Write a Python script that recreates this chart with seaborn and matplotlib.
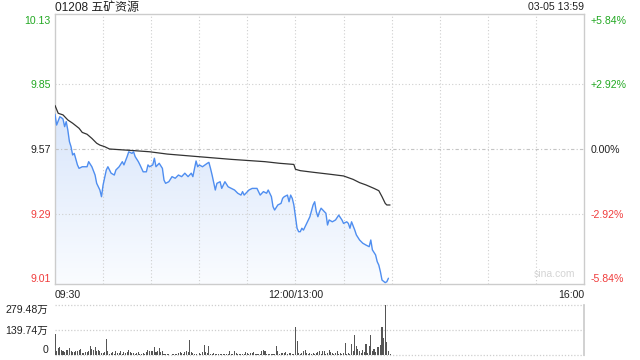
import matplotlib
matplotlib.use("Agg")
import numpy as np
import pandas as pd
import matplotlib.pyplot as plt
import seaborn as sns
from matplotlib.colors import LinearSegmentedColormap

# ---------------- data ----------------
title_text = "01208 五矿资源"
date_text = "03-05 13:59"
prev_close = 9.57

# minute index from 09:30 (lunch break 12:00-13:00 removed; 13:00 = 150)
price_min = [0, 1, 3, 4, 5, 6, 7, 8, 9, 10, 11, 12, 14, 15, 17, 20, 21, 23, 25, 26,
             28, 29, 30, 32, 33, 35, 37, 38, 40, 42, 43, 45, 46, 48, 49, 50, 52, 53, 55, 57,
             58, 59, 61, 62, 63, 65, 67, 68, 69, 71, 73, 75, 77, 79, 81, 83, 85, 86, 88, 89,
             90, 92, 95, 96, 97, 98, 100, 101, 103, 104, 106, 108, 110, 112, 114, 116, 117, 118, 121, 123,
             126, 128, 130, 132, 133, 135, 136, 137, 139, 141, 142, 143, 145, 146, 147, 148, 149, 150, 151, 152,
             153, 154, 155, 157, 159, 161, 162, 163, 164, 165, 166, 168, 169, 170, 171, 173, 175, 177, 179, 180,
             182, 183, 184, 185, 187, 188, 190, 192, 194, 196, 197, 198, 200, 201, 202, 203, 204, 206, 207, 208]
price_val = [9.721, 9.674, 9.710, 9.706, 9.700, 9.667, 9.689, 9.652, 9.602, 9.580, 9.544, 9.551, 9.501, 9.486, 9.493, 9.493, 9.515, 9.493, 9.457, 9.421,
             9.392, 9.363, 9.414, 9.479, 9.493, 9.465, 9.457, 9.479, 9.493, 9.515, 9.501, 9.537, 9.558, 9.551, 9.558, 9.537, 9.515, 9.501, 9.471, 9.471,
             9.501, 9.493, 9.501, 9.530, 9.493, 9.508, 9.486, 9.435, 9.421, 9.428, 9.450, 9.443, 9.457, 9.450, 9.465, 9.450, 9.465, 9.450, 9.518, 9.493,
             9.501, 9.493, 9.508, 9.512, 9.486, 9.457, 9.392, 9.421, 9.428, 9.399, 9.428, 9.406, 9.399, 9.392, 9.378, 9.370, 9.385, 9.370, 9.392, 9.399,
             9.399, 9.370, 9.385, 9.378, 9.392, 9.363, 9.320, 9.305, 9.327, 9.334, 9.356, 9.363, 9.370, 9.341, 9.370, 9.356, 9.327, 9.276, 9.226, 9.211,
             9.211, 9.226, 9.218, 9.247, 9.276, 9.327, 9.341, 9.298, 9.276, 9.298, 9.313, 9.298, 9.291, 9.240, 9.262, 9.254, 9.262, 9.283, 9.262, 9.247,
             9.254, 9.247, 9.226, 9.254, 9.218, 9.197, 9.175, 9.161, 9.153, 9.146, 9.175, 9.132, 9.110, 9.081, 9.066, 9.037, 9.001, 8.990, 8.994, 9.009]

avg_min = [0, 2, 5, 8, 11, 15, 17, 20, 23, 26, 28, 31, 34, 49, 59, 70, 89, 110, 131, 140,
           149, 150, 153, 161, 172, 180, 186, 190, 194, 199, 202, 204, 206, 207, 209]
avg_val = [9.759, 9.725, 9.718, 9.696, 9.682, 9.660, 9.642, 9.634, 9.616, 9.595, 9.587, 9.580, 9.570, 9.563, 9.558, 9.548, 9.537, 9.525, 9.515, 9.508,
           9.503, 9.482, 9.476, 9.469, 9.460, 9.453, 9.438, 9.424, 9.414, 9.399, 9.389, 9.363, 9.334, 9.327, 9.327]

# volume per minute (万股), minute 0 .. 209
volume = [117, 24, 37, 47, 28, 24, 15, 30, 28, 39,
          20, 15, 15, 20, 24, 30, 34, 9, 11, 15,
          15, 20, 52, 34, 28, 43, 24, 28, 20, 9,
          9, 15, 89, 24, 6, 9, 15, 6, 20, 9,
          11, 20, 6, 15, 9, 15, 30, 15, 9, 9,
          6, 9, 15, 6, 6, 9, 6, 15, 28, 24,
          20, 24, 43, 15, 24, 39, 15, 20, 6, 4,
          4, 4, 2, 4, 4, 4, 4, 9, 15, 9,
          6, 15, 20, 15, 86, 15, 9, 6, 6, 2,
          9, 6, 15, 58, 15, 9, 48, 6, 6, 9,
          6, 4, 4, 4, 4, 4, 4, 4, 4, 24,
          4, 6, 20, 9, 4, 4, 4, 4, 4, 19,
          9, 6, 9, 11, 15, 6, 4, 4, 4, 24,
          30, 20, 4, 6, 4, 6, 4, 6, 48, 24,
          6, 9, 11, 11, 15, 6, 11, 11, 6, 4,
          158, 80, 9, 6, 9, 20, 30, 11, 6, 9,
          6, 9, 6, 11, 15, 24, 6, 24, 24, 6,
          9, 30, 15, 9, 6, 9, 24, 6, 9, 6,
          11, 65, 6, 9, 6, 61, 20, 110, 52, 34,
          20, 11, 28, 15, 61, 9, 52, 110, 20, 34,
          15, 47, 47, 58, 155, 93, 279.48, 71, 20, 6]

total_minutes = 330
left_ticks = [10.13, 9.85, 9.57, 9.29, 9.01]
left_labels = ["10.13", "9.85", "9.57", "9.29", "9.01"]
right_labels = ["+5.84%", "+2.92%", "0.00%", "-2.92%", "-5.84%"]
x_tick_pos = [0, 150, 330]
x_tick_labels = ["09:30", "12:00/13:00", "16:00"]
vol_ticks = [0, 139.74, 279.48]
vol_labels = ["0", "139.74万", "279.48万"]

# ---------------- style ----------------
sns.set_theme(style="white")
plt.rcParams["font.family"] = ["Liberation Sans", "Noto Sans CJK SC", "DejaVu Sans"]

GREEN = "#22a822"
RED = "#f03c3c"
BLACK = "#222222"
BLUE = "#4f8ef0"
GRID = "#cfcfcf"
FRAME = "#cccccc"
label_colors = [GREEN, GREEN, BLACK, RED, RED]
FS = 7.6

W, H = 640, 360
fig = plt.figure(figsize=(W / 100, H / 100), dpi=100)
fig.patch.set_facecolor("white")


def rect(l, t, r, b):
    return [l / W, 1 - b / H, (r - l) / W, (b - t) / H]


ax = fig.add_axes(rect(55, 14, 584, 284))
axv = fig.add_axes(rect(55, 305, 584, 355))

ylo, yhi = 8.984, 10.156

df_p = pd.DataFrame({"minute": price_min, "price": price_val})
df_a = pd.DataFrame({"minute": avg_min, "avg": avg_val})

# gradient area under the price line
poly = ax.fill_between(df_p["minute"], df_p["price"], ylo, color="none", lw=0)
grad = np.linspace(0, 1, 256).reshape(-1, 1)
cmap = LinearSegmentedColormap.from_list("g", ["#fafcff", "#d9e6fb"])
im = ax.imshow(grad, extent=[0, max(price_min), ylo, max(price_val)], origin="lower",
               cmap=cmap, aspect="auto", zorder=1, interpolation="bilinear")
im.set_clip_path(poly.get_paths()[0], transform=ax.transData)

sns.lineplot(data=df_a, x="minute", y="avg", ax=ax, color="#333333", lw=0.9, zorder=4)
sns.lineplot(data=df_p, x="minute", y="price", ax=ax, color=BLUE, lw=1.0, zorder=5)

ax.set_xlim(0, total_minutes)
ax.set_ylim(ylo, yhi)
ax.set_xlabel("")
ax.set_ylabel("")

# grid
for m in range(30, total_minutes, 30):
    ax.axvline(m, color=GRID, lw=0.8, ls=(0, (1, 2)), zorder=2)
for v in [9.85, 9.29]:
    ax.axhline(v, color=GRID, lw=0.8, ls=(0, (1, 2)), zorder=2)
ax.axhline(prev_close, color="#c4c4c4", lw=0.8, ls=(0, (3, 2, 1, 2)), zorder=2)

for s in ax.spines.values():
    s.set_color(FRAME)
    s.set_linewidth(1.0)

ax.set_yticks(left_ticks)
ax.set_yticklabels(left_labels)
for lab, c in zip(ax.get_yticklabels(), label_colors):
    lab.set_color(c)
ax.tick_params(axis="y", length=0, pad=3, labelsize=FS)

ax.set_xticks(x_tick_pos)
ax.set_xticklabels(x_tick_labels)
xl = ax.get_xticklabels()
xl[0].set_horizontalalignment("left")
xl[2].set_horizontalalignment("right")
for lab in xl:
    lab.set_color(BLACK)
ax.tick_params(axis="x", length=0, pad=4, labelsize=FS)

axr = ax.twinx()
axr.set_ylim(ylo, yhi)
axr.set_yticks(left_ticks)
axr.set_yticklabels(right_labels)
for lab, c in zip(axr.get_yticklabels(), label_colors):
    lab.set_color(c)
axr.tick_params(axis="y", length=0, pad=4.5, labelsize=FS)
for s in axr.spines.values():
    s.set_visible(False)
axr.grid(False)

ax.text(0.945, 0.02, "sina.com", transform=ax.transAxes, ha="center", va="bottom",
        color="#d4d4d4", fontsize=7.5)

fig.text(55 / W, 1 - 7.5 / H, title_text, ha="left", va="center", fontsize=8.6, color=BLACK)
fig.text(584 / W, 1 - 7.5 / H, date_text, ha="right", va="center", fontsize=FS, color=BLACK)

# ---------------- volume ----------------
df_v = pd.DataFrame({"minute": np.arange(len(volume)), "vol": volume})
sns.barplot(data=df_v, x="minute", y="vol", ax=axv, native_scale=True, color="#555555",
            width=0.65, errorbar=None, saturation=1, linewidth=0)
axv.set_xlim(0, total_minutes)
axv.set_ylim(0, vol_ticks[-1])
axv.set_xlabel("")
axv.set_ylabel("")
axv.set_xticks([])
for v in vol_ticks:
    axv.axhline(v, color=GRID, lw=0.9, ls=(0, (1, 1.5)), zorder=0, clip_on=False)
for k, s in axv.spines.items():
    s.set_visible(k == "right")
axv.spines["right"].set_color(FRAME)
axv.set_yticks(vol_ticks)
axv.set_yticklabels(vol_labels)
axv.tick_params(axis="y", length=0, pad=5, labelsize=FS, labelcolor=BLACK)
vl = axv.get_yticklabels()
vl[0].set_verticalalignment("bottom")
vl[2].set_verticalalignment("top")
axv.grid(False)

fig.savefig("out.png", dpi=100, facecolor="white")
